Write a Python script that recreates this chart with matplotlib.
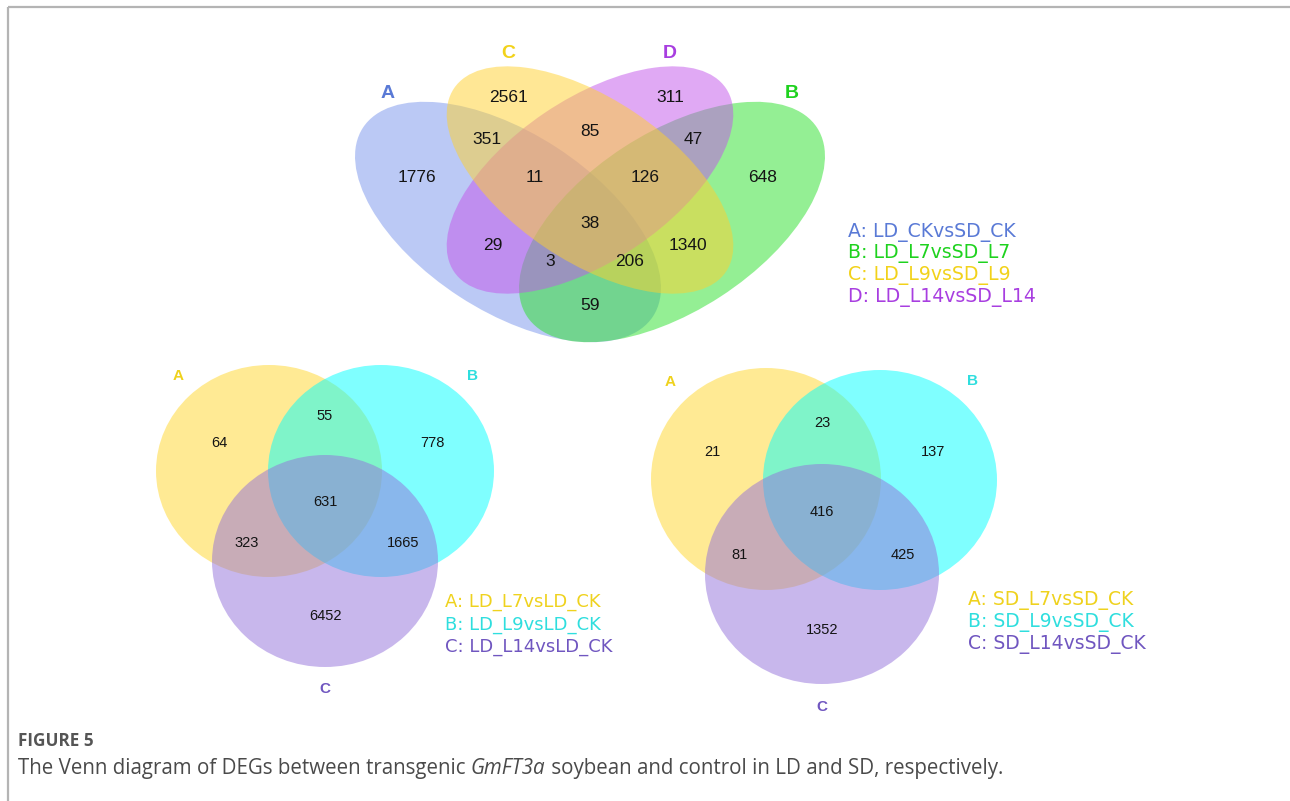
import matplotlib.pyplot as plt
from matplotlib.patches import Ellipse

# ---- data -------------------------------------------------------------
# top: four-way venn (LD vs SD)
top_sets = ["A", "B", "C", "D"]
top_names = ["LD_CKvsSD_CK", "LD_L7vsSD_L7", "LD_L9vsSD_L9", "LD_L14vsSD_L14"]
top_regions = ["A", "B", "C", "D", "AC", "CD", "BD", "ACD", "BCD",
               "ABCD", "AD", "BC", "ABD", "ABC", "AB"]
top_counts = [1776, 648, 2561, 311, 351, 85, 47, 11, 126, 38, 29, 1340, 3, 206, 59]

# bottom left: three-way venn in LD
ld_sets = ["A", "B", "C"]
ld_names = ["LD_L7vsLD_CK", "LD_L9vsLD_CK", "LD_L14vsLD_CK"]
ld_regions = ["A", "AB", "B", "ABC", "AC", "BC", "C"]
ld_counts = [64, 55, 778, 631, 323, 1665, 6452]

# bottom right: three-way venn in SD
sd_sets = ["A", "B", "C"]
sd_names = ["SD_L7vsSD_CK", "SD_L9vsSD_CK", "SD_L14vsSD_CK"]
sd_regions = ["A", "AB", "B", "ABC", "AC", "BC", "C"]
sd_counts = [21, 23, 137, 416, 81, 425, 1352]

caption_head = "FIGURE 5"
caption_parts = ["The Venn diagram of DEGs between transgenic ", "GmFT3a",
                 " soybean and control in LD and SD, respectively."]

# ---- layout (pixel space) -------------------------------------------
# ellipse shapes: (cx, cy, width, height, angle), drawn in order A, B, D, C
top_shapes = {"A": (508, 222, 346, 178, 33), "B": (672, 222, 346, 178, -33),
              "C": (590, 180, 328, 162, 34), "D": (590, 180, 328, 162, -34)}
top_fill = {"A": "#7894ec", "B": "#2ae02a", "C": "#ffd12d", "D": "#c355eb"}
top_text = {"A": "#5a7ad6", "B": "#1ed21e", "C": "#f2d21a", "D": "#a83ee0"}
top_label_xy = {"A": (388, 94), "B": (792, 94), "C": (508, 54), "D": (670, 54)}
top_xy = {"A": (417, 177), "B": (763, 177), "C": (508, 97), "D": (670, 97),
          "AC": (487, 139), "CD": (590, 131), "BD": (693, 139), "ACD": (535, 177),
          "BCD": (645, 177), "ABCD": (590, 223), "AD": (493, 245), "BC": (688, 245),
          "ABD": (550, 262), "ABC": (630, 262), "AB": (590, 305)}

tri_fill = {"A": "#ffd72a", "B": "#00ffff", "C": "#9370db"}
tri_text = {"A": "#efd21e", "B": "#2fdede", "C": "#7056c0"}

ld_shapes = {"A": (269, 471, 226, 212), "B": (381, 471, 226, 212), "C": (325, 561, 226, 212)}
ld_label_xy = {"A": (178, 376), "B": (472, 376), "C": (325, 689)}
ld_xy = {"A": (219, 443), "AB": (325, 416), "B": (432, 443), "ABC": (325, 502),
         "AC": (247, 543), "BC": (403, 543), "C": (325, 616)}

sd_shapes = {"A": (766, 479, 230, 222), "B": (880, 480, 234, 220), "C": (822, 574, 234, 220)}
sd_label_xy = {"A": (670, 382), "B": (973, 381), "C": (822, 707)}
sd_xy = {"A": (712, 452), "AB": (822, 423), "B": (933, 452), "ABC": (822, 512),
         "AC": (740, 555), "BC": (903, 555), "C": (822, 630)}

plt.rcParams['font.family'] = ['Liberation Sans', 'DejaVu Sans']

fig = plt.figure(figsize=(12.9, 8.01), dpi=100)
ax = fig.add_axes([0, 0, 1, 1])
ax.set_xlim(0, 1290)
ax.set_ylim(801, 0)
ax.axis('off')

# frame lines
ax.plot([8, 1290], [7, 7], color='#b4b4b4', lw=1.6, solid_capstyle='butt')
ax.plot([8, 8], [7, 801], color='#b4b4b4', lw=1.6, solid_capstyle='butt')

# ---- four-way venn ----------------------------------------------------
for s in ["A", "B", "D", "C"]:
    cx, cy, w, h, ang = top_shapes[s]
    ax.add_patch(Ellipse((cx, cy), w, h, angle=ang, facecolor=top_fill[s],
                         edgecolor='none', alpha=0.5))
for s in top_sets:
    x, y = top_label_xy[s]
    ax.text(x, y, s, color=top_text[s], fontsize=14, fontweight='bold',
            ha='center', va='center')
for r, n in zip(top_regions, top_counts):
    x, y = top_xy[r]
    ax.text(x, y, str(n), color='#141414', fontsize=12.5, ha='center', va='center')
for i, (s, name) in enumerate(zip(top_sets, top_names)):
    ax.text(848, 232 + i * 21.7, f"{s}: {name}", color=top_text[s],
            fontsize=13.6, family='DejaVu Sans', ha='left', va='center')


# ---- three-way venns --------------------------------------------------
def draw_tri(shapes, label_xy, regions, counts, xy, sets, names, leg_x, leg_y, leg_fs):
    for s in sets:
        cx, cy, w, h = shapes[s]
        ax.add_patch(Ellipse((cx, cy), w, h, facecolor=tri_fill[s],
                             edgecolor='none', alpha=0.5))
    for s in sets:
        x, y = label_xy[s]
        ax.text(x, y, s, color=tri_text[s], fontsize=11, fontweight='bold',
                ha='center', va='center')
    for r, n in zip(regions, counts):
        x, y = xy[r]
        ax.text(x, y, str(n), color='#141414', fontsize=10.5, ha='center', va='center')
    for i, (s, name) in enumerate(zip(sets, names)):
        ax.text(leg_x, leg_y + i * 22.5, f"{s}: {name}", color=tri_text[s],
                fontsize=leg_fs, family='DejaVu Sans', ha='left', va='center')


draw_tri(ld_shapes, ld_label_xy, ld_regions, ld_counts, ld_xy, ld_sets, ld_names, 445, 602, 13.0)
draw_tri(sd_shapes, sd_label_xy, sd_regions, sd_counts, sd_xy, sd_sets, sd_names, 968, 600, 13.5)

# ---- caption ----------------------------------------------------------
ax.text(18, 741, caption_head, color='#555555', fontsize=12.3, fontweight='bold',
        family='Open Sans', ha='left', va='center')
t = ax.text(18, 779, caption_parts[0], color='#4a4a4a', fontsize=14.8,
            family='Open Sans', ha='left', va='bottom')
t = ax.annotate(caption_parts[1], xy=(1, 0), xycoords=t, color='#4a4a4a',
                fontsize=14.8, family='Open Sans', style='italic', ha='left', va='bottom')
ax.annotate(caption_parts[2], xy=(1, 0), xycoords=t, color='#4a4a4a',
            fontsize=14.8, family='Open Sans', ha='left', va='bottom')

fig.savefig("out.png", dpi=100)
